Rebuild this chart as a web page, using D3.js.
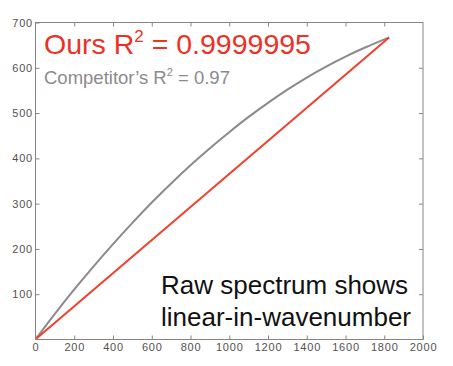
<!DOCTYPE html>
<html>
<head>
<meta charset="utf-8">
<script src="https://cdn.jsdelivr.net/npm/d3@7"></script>
<style>
  body { margin: 0; background: #fff; }
  svg { display: block; font-family: "Liberation Sans", Arial, sans-serif; }
</style>
</head>
<body>
<svg id="chart" width="453" height="366"></svg>
<script>
var width = 453;
var height = 366;
var margin = {top: 22.5, right: 30, bottom: 26.5, left: 35.5};

// wavenumber axis values and the two calibration curves
var oursX = [5, 1825];
var oursY = [2, 667];
var competitorX = [5, 100, 200, 300, 400, 500, 600, 700, 800, 900, 1000, 1100, 1200, 1300, 1400, 1500, 1600, 1700, 1825];
var competitorY = [3, 57, 111, 162, 211, 258, 303, 345, 385, 423, 458, 492, 523, 552, 579, 603, 625, 645, 667];
var xTicks = [0, 200, 400, 600, 800, 1000, 1200, 1400, 1600, 1800, 2000];
var yTicks = [100, 200, 300, 400, 500, 600, 700];

var svg = d3.select('#chart');

var x = d3.scaleLinear()
    .domain([0, 2000])
    .range([margin.left, width - margin.right]);

var y = d3.scaleLinear()
    .domain([0, 700])
    .range([height - margin.bottom, margin.top]);

var axisColor = '#8a8480';
var labelColor = '#55504f';

function styleAxis(g, showLabels) {
    g.select('.domain').remove();
    g.selectAll('.tick line').attr('stroke', axisColor);
    g.selectAll('.tick text')
        .attr('fill', labelColor)
        .style('font-size', '11px')
        .style('letter-spacing', '0.8px')
        .style('display', showLabels ? null : 'none');
}

// bottom axis
svg.append('g')
    .attr('transform', 'translate(0,' + y(0) + ')')
    .call(d3.axisBottom(x).tickValues(xTicks).tickFormat(d3.format('d'))
        .tickSizeInner(-4).tickSizeOuter(0).tickPadding(4))
    .call(styleAxis, true);

// top axis (ticks only)
svg.append('g')
    .attr('transform', 'translate(0,' + y(700) + ')')
    .call(d3.axisTop(x).tickValues(xTicks.slice(1, -1)).tickSizeInner(-4).tickSizeOuter(0))
    .call(styleAxis, false);

// left axis
svg.append('g')
    .attr('transform', 'translate(' + x(0) + ',0)')
    .call(d3.axisLeft(y).tickValues(yTicks).tickFormat(d3.format('d'))
        .tickSizeInner(-4).tickSizeOuter(0).tickPadding(2.5))
    .call(styleAxis, true);

// right axis (ticks only)
svg.append('g')
    .attr('transform', 'translate(' + x(2000) + ',0)')
    .call(d3.axisRight(y).tickValues(yTicks.slice(0, -1)).tickSizeInner(-4).tickSizeOuter(0))
    .call(styleAxis, false);

// frame
svg.append('rect')
    .attr('x', x(0))
    .attr('y', y(700))
    .attr('width', x(2000) - x(0))
    .attr('height', y(0) - y(700))
    .attr('fill', 'none')
    .attr('stroke', axisColor)
    .attr('stroke-width', 1);

var line = d3.line()
    .x(function(d) { return x(d[0]); })
    .y(function(d) { return y(d[1]); })
    .curve(d3.curveBasis);

svg.append('path')
    .datum(d3.zip(competitorX, competitorY))
    .attr('d', line)
    .attr('fill', 'none')
    .attr('stroke', '#8c8a8c')
    .attr('stroke-width', 2);

svg.append('path')
    .datum(d3.zip(oursX, oursY))
    .attr('d', line)
    .attr('fill', 'none')
    .attr('stroke', '#f0402c')
    .attr('stroke-width', 2);

// annotations
var t1 = svg.append('text')
    .attr('x', 44)
    .attr('y', 53.5)
    .attr('fill', '#ee3124')
    .style('font-size', '28.5px');
t1.append('tspan').text('Ours R');
t1.append('tspan').attr('dy', -12).style('font-size', '17px').text('2');
t1.append('tspan').attr('dy', 12).text(' = 0.9999995');

var t2 = svg.append('text')
    .attr('x', 44)
    .attr('y', 83.5)
    .attr('fill', '#8c8a8c')
    .style('font-size', '18.5px');
t2.append('tspan').text('Competitor\u2019s R');
t2.append('tspan').attr('dy', -8).style('font-size', '11px').text('2');
t2.append('tspan').attr('dy', 8).text(' = 0.97');

svg.append('text')
    .attr('x', 161)
    .attr('y', 293.5)
    .attr('fill', '#111')
    .style('font-size', '26px')
    .text('Raw spectrum shows');

svg.append('text')
    .attr('x', 161)
    .attr('y', 325.5)
    .attr('fill', '#111')
    .style('font-size', '26px')
    .text('linear-in-wavenumber');
</script>
</body>
</html>
